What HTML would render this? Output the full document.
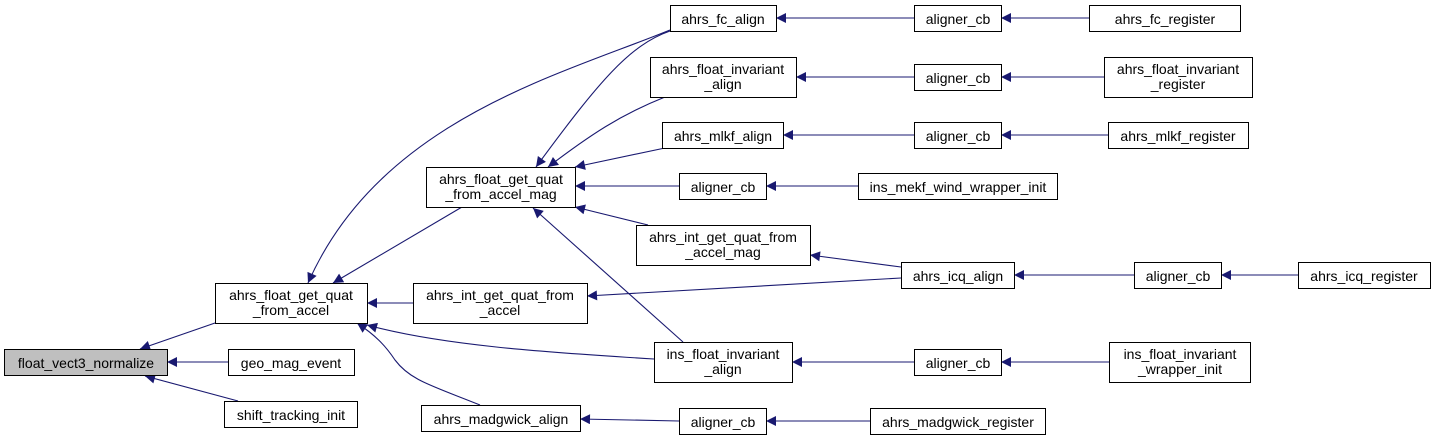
<!DOCTYPE html>
<html><head><meta charset="utf-8"><style>
html,body{margin:0;padding:0;background:#fff;}
svg text{font-family:"Liberation Sans",sans-serif;font-size:14px;fill:#000;}
</style></head><body>
<svg width="1436" height="440" xmlns="http://www.w3.org/2000/svg">
<defs><marker id="a" viewBox="0 0 10 10" refX="10" refY="5" markerWidth="13" markerHeight="10" markerUnits="userSpaceOnUse" orient="auto"><path d="M0,0 L10,5 L0,10 z" fill="#191970"/></marker></defs>
<g fill="none" stroke="#191970" stroke-width="1.1">
<path d="M215,323 L140,349" marker-end="url(#a)"/>
<path d="M228,362 L167,362" marker-end="url(#a)"/>
<path d="M238,401 L145,376" marker-end="url(#a)"/>
<path d="M462,207 L333,283" marker-end="url(#a)"/>
<path d="M670,30 C560,75 380,120 308,283" marker-end="url(#a)"/>
<path d="M413,303 L367,303" marker-end="url(#a)"/>
<path d="M654,359 C540,352 440,345 367,325" marker-end="url(#a)"/>
<path d="M480,405 C430,385 410,380 395,360 C385,345 375,335 357,323" marker-end="url(#a)"/>
<path d="M670,31 C630,45 600,80 536,167" marker-end="url(#a)"/>
<path d="M665,97 C620,115 590,135 548,167" marker-end="url(#a)"/>
<path d="M665,148 L575,167" marker-end="url(#a)"/>
<path d="M679,186 L575,186" marker-end="url(#a)"/>
<path d="M648,225 L575,207" marker-end="url(#a)"/>
<path d="M683,342 L533,208" marker-end="url(#a)"/>
<path d="M914,18 L776,18" marker-end="url(#a)"/>
<path d="M914,77 L796,77" marker-end="url(#a)"/>
<path d="M914,135 L783,135" marker-end="url(#a)"/>
<path d="M858,186 L766,186" marker-end="url(#a)"/>
<path d="M901,267 L810,255" marker-end="url(#a)"/>
<path d="M901,278 L587,296" marker-end="url(#a)"/>
<path d="M914,362 L792,362" marker-end="url(#a)"/>
<path d="M679,421 L580,419" marker-end="url(#a)"/>
<path d="M1089,18 L1001,18" marker-end="url(#a)"/>
<path d="M1104,77 L1001,77" marker-end="url(#a)"/>
<path d="M1108,135 L1001,135" marker-end="url(#a)"/>
<path d="M1134,275 L1014,275" marker-end="url(#a)"/>
<path d="M1298,275 L1221,275" marker-end="url(#a)"/>
<path d="M1109,362 L1001,362" marker-end="url(#a)"/>
<path d="M870,421 L766,421" marker-end="url(#a)"/>
</g>
<g stroke="#000" stroke-width="1" fill="#fff">
<rect x="4.5" y="349.5" width="163" height="26" fill="#bfbfbf"/>
<rect x="215.5" y="283.5" width="152" height="40"/>
<rect x="228.5" y="349.5" width="126" height="26"/>
<rect x="224.5" y="401.5" width="133" height="26"/>
<rect x="426.5" y="167.5" width="149" height="40"/>
<rect x="413.5" y="283.5" width="174" height="40"/>
<rect x="421.5" y="405.5" width="159" height="26"/>
<rect x="670.5" y="5.5" width="106" height="26"/>
<rect x="650.5" y="57.5" width="146" height="40"/>
<rect x="662.5" y="122.5" width="121" height="26"/>
<rect x="679.5" y="173.5" width="87" height="26"/>
<rect x="636.5" y="225.5" width="174" height="40"/>
<rect x="654.5" y="342.5" width="138" height="40"/>
<rect x="679.5" y="408.5" width="87" height="26"/>
<rect x="914.5" y="5.5" width="87" height="26"/>
<rect x="914.5" y="64.5" width="87" height="26"/>
<rect x="914.5" y="122.5" width="87" height="26"/>
<rect x="858.5" y="173.5" width="199" height="26"/>
<rect x="901.5" y="262.5" width="113" height="26"/>
<rect x="914.5" y="349.5" width="87" height="26"/>
<rect x="870.5" y="408.5" width="175" height="26"/>
<rect x="1089.5" y="5.5" width="151" height="26"/>
<rect x="1104.5" y="57.5" width="148" height="40"/>
<rect x="1108.5" y="122.5" width="140" height="26"/>
<rect x="1134.5" y="262.5" width="87" height="26"/>
<rect x="1109.5" y="342.5" width="141" height="40"/>
<rect x="1298.5" y="262.5" width="132" height="26"/>
</g>
<g text-anchor="middle">
<text x="86" y="368">float_vect3_normalize</text>
<text x="291" y="300">ahrs_float_get_quat</text><text x="291" y="315">_from_accel</text>
<text x="291" y="368">geo_mag_event</text>
<text x="291" y="420">shift_tracking_init</text>
<text x="501" y="184">ahrs_float_get_quat</text><text x="501" y="199">_from_accel_mag</text>
<text x="500" y="300">ahrs_int_get_quat_from</text><text x="500" y="315">_accel</text>
<text x="501" y="424">ahrs_madgwick_align</text>
<text x="723" y="24">ahrs_fc_align</text>
<text x="723" y="74">ahrs_float_invariant</text><text x="723" y="89">_align</text>
<text x="723" y="141">ahrs_mlkf_align</text>
<text x="723" y="192">aligner_cb</text>
<text x="723" y="242">ahrs_int_get_quat_from</text><text x="723" y="257">_accel_mag</text>
<text x="723" y="359">ins_float_invariant</text><text x="723" y="374">_align</text>
<text x="723" y="427">aligner_cb</text>
<text x="958" y="24">aligner_cb</text>
<text x="958" y="83">aligner_cb</text>
<text x="958" y="141">aligner_cb</text>
<text x="958" y="192">ins_mekf_wind_wrapper_init</text>
<text x="958" y="281">ahrs_icq_align</text>
<text x="958" y="368">aligner_cb</text>
<text x="958" y="427">ahrs_madgwick_register</text>
<text x="1165" y="24">ahrs_fc_register</text>
<text x="1178" y="74">ahrs_float_invariant</text><text x="1178" y="89">_register</text>
<text x="1178" y="141">ahrs_mlkf_register</text>
<text x="1178" y="281">aligner_cb</text>
<text x="1180" y="359">ins_float_invariant</text><text x="1180" y="374">_wrapper_init</text>
<text x="1364" y="281">ahrs_icq_register</text>
</g>
</svg>
</body></html>
